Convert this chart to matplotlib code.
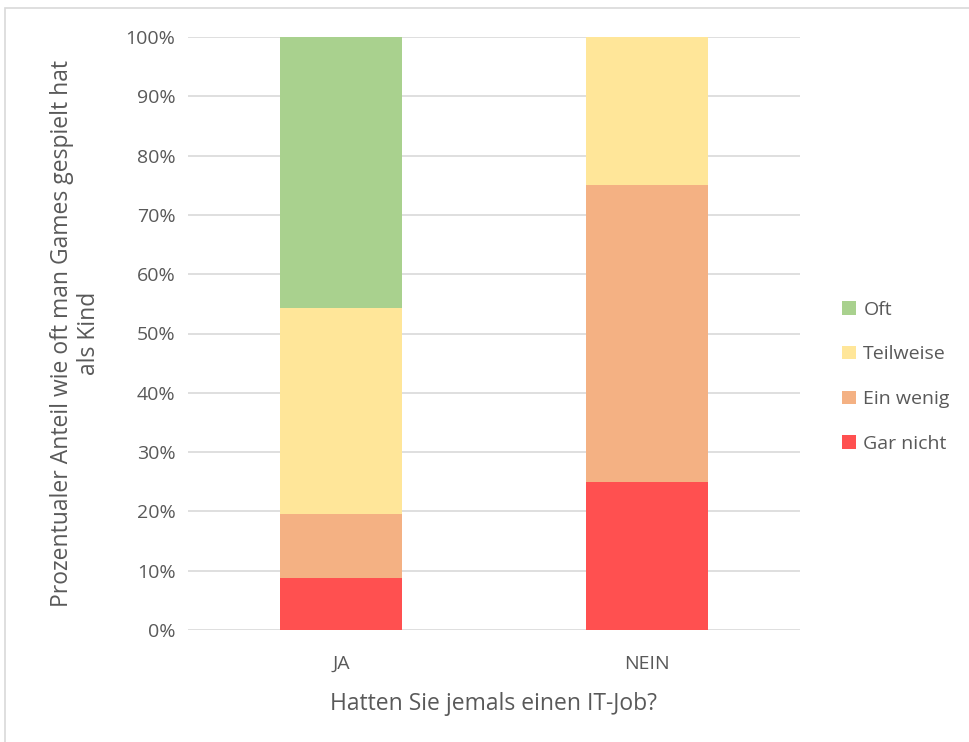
import numpy as np
import matplotlib.pyplot as plt
from matplotlib.patches import Rectangle

# Share of respondents (fractions), stacked bottom to top
groups = ["JA", "NEIN"]
gar_nicht = [4 / 46, 0.25]
ein_wenig = [5 / 46, 0.50]
teilweise = [16 / 46, 0.25]
oft = [21 / 46, 0.0]

series = ["Gar nicht", "Ein wenig", "Teilweise", "Oft"]
colors = ["#FF5050", "#F4B183", "#FFE699", "#A9D18E"]
TEXT = "#595959"
GRID = "#D9D9D9"

plt.rcParams["font.family"] = ["Open Sans", "DejaVu Sans"]

fig = plt.figure(figsize=(9.7, 7.42), dpi=100)
fig.patches.append(Rectangle((5 / 970, -0.05), 1.1, 1.05 - 8 / 742, transform=fig.transFigure,
                             fill=False, edgecolor=GRID, linewidth=1.2))
ax = fig.add_axes([188 / 970, 1 - 630 / 742, 612 / 970, 593 / 742])

x = np.arange(len(groups))
bottom = np.zeros(len(groups))
handles = []
for name, vals, c in zip(series, [gar_nicht, ein_wenig, teilweise, oft], colors):
    vals = np.array(vals)
    h = ax.bar(x, vals, 0.4, bottom=bottom, color=c, label=name, zorder=3)
    handles.append(h)
    bottom += vals

ax.set_xlim(-0.5, 1.5)
ax.set_ylim(0, 1.0)
ax.set_yticks(np.arange(0, 1.01, 0.1))
ax.yaxis.set_major_formatter(plt.FuncFormatter(lambda v, _: f"{v:.0%}"))
ax.set_xticks(x)
ax.set_xticklabels(groups)
ax.tick_params(axis="both", length=0, colors=TEXT, labelsize=14)
ax.tick_params(axis="y", pad=9)
ax.tick_params(axis="x", pad=18)
ax.grid(axis="y", color=GRID, linewidth=1.2, zorder=0)
for s in ax.spines.values():
    s.set_visible(False)

ax.set_xlabel("Hatten Sie jemals einen IT-Job?", color=TEXT, fontsize=16.5, labelpad=14)
ax.set_ylabel("Prozentualer Anteil wie oft man Games gespielt hat\nals Kind",
              color=TEXT, fontsize=16.5, labelpad=18, linespacing=1.15)

leg = ax.legend(handles[::-1], series[::-1], loc="center left", bbox_to_anchor=(1.04, 0.427),
                frameon=False, fontsize=14, labelspacing=1.38, handlelength=0.7,
                handleheight=0.7, handletextpad=0.4)
for t in leg.get_texts():
    t.set_color(TEXT)

fig.savefig("out.png", dpi=100)
